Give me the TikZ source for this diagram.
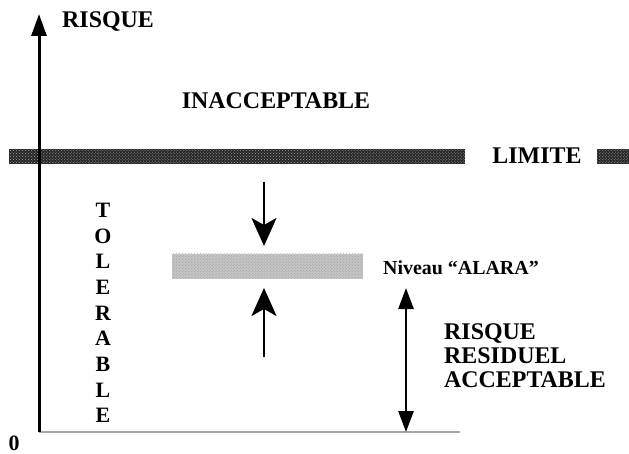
\documentclass[tikz,border=0pt]{standalone}
\usepackage{fontspec}
\setmainfont{Liberation Serif}
\usetikzlibrary{arrows.meta,patterns}
\begin{document}
\begin{tikzpicture}[x=1bp,y=-1bp,
  lbl/.style={inner sep=0pt,font=\bfseries\fontsize{24}{26}\selectfont},
  axis/.style={line width=3bp},
  bigarrow/.style={line width=2.6bp,-{Stealth[length=28bp,width=25bp,inset=7bp]}},
  smallhead/.style={line width=2.6bp},
  limband/.style={fill=black!85,postaction={pattern=crosshatch dots,pattern color=gray!70}},
  alaraband/.style={fill=gray!45,postaction={pattern=crosshatch dots,pattern color=gray!80}}]
\useasboundingbox (0,0) rectangle (629,454);
% bands
\path[limband] (9,149) rectangle (465,164);
\path[limband] (597,149) rectangle (629,164);
\path[alaraband] (172,254) rectangle (363,279);
% axes
\coordinate (o) at (39,432);
\coordinate (ytop) at (39,14);
\coordinate (xend) at (460,432);
\draw[gray!70,line width=1.3bp] (o) -- (xend);
\draw[axis,-{Triangle[length=22bp,width=15bp]}] (o) -- (ytop);
% texts
\node[lbl,anchor=west] (risque) at (62,22) {RISQUE};
\node[lbl] (inacc) at (276,101) {INACCEPTABLE};
\node[lbl] (limite) at (537,156) {LIMITE};
\node[lbl,align=center,font=\bfseries\fontsize{22}{25.8}\selectfont] (toler) at (103,313) {T\\O\\L\\E\\R\\A\\B\\L\\E};
\node[lbl,anchor=west,font=\bfseries\fontsize{20}{24}\selectfont] (alara) at (383,268) {Niveau “ALARA”};
\node[lbl,anchor=north west,align=left,font=\bfseries\fontsize{24}{24.5}\selectfont] (resid) at (444,323) {RISQUE\\RESIDUEL\\ACCEPTABLE};
\node[lbl,font=\bfseries\fontsize{22}{24}\selectfont] (zero) at (14,443) {0};
% arrows
\coordinate (d1) at (264,182);
\coordinate (d2) at (264,246);
\coordinate (u1) at (264,357);
\coordinate (u2) at (264,288);
\draw[bigarrow] (d1) -- (d2);
\draw[bigarrow] (u1) -- (u2);
\coordinate (r1) at (406,288);
\coordinate (r2) at (406,432);
\draw[smallhead,{Triangle[length=21bp,width=15bp]}-{Triangle[length=21bp,width=15bp]}] (r1) -- (r2);
\end{tikzpicture}
\end{document}
